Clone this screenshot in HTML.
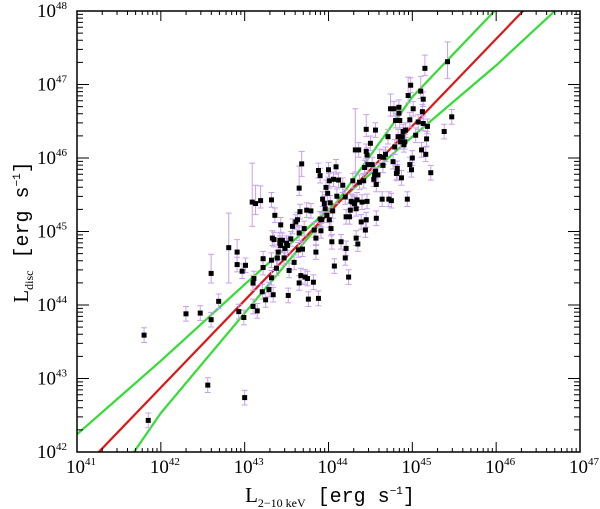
<!DOCTYPE html>
<html><head><meta charset="utf-8"><style>
html,body{margin:0;padding:0;background:#fff;}
svg{display:block;font-family:"Liberation Serif",serif;}
</style></head><body>
<svg id="chart" width="600" height="509" viewBox="0 0 600 509" xmlns="http://www.w3.org/2000/svg">
<g id="bands"></g>
<g id="errs"></g>
<g id="pts"></g>
<rect x="77" y="11" width="503" height="441" fill="none" stroke="#000" stroke-width="1.5"/>
<g id="ticks"></g>
<g id="labels"></g>
<text x="330" y="502" text-anchor="middle" font-size="21">L<tspan font-size="12" dy="5">2−10 keV</tspan><tspan dy="-5" font-family="Liberation Mono, monospace" font-size="20"> [erg s<tspan font-size="11" dy="-8">−1</tspan><tspan dy="8">]</tspan></tspan></text>
<text transform="translate(28,232) rotate(-90)" text-anchor="middle" font-size="21">L<tspan font-size="12" dy="5">disc</tspan><tspan dy="-5" font-family="Liberation Mono, monospace" font-size="20"> [erg s<tspan font-size="11" dy="-8">−1</tspan><tspan dy="8">]</tspan></tspan></text>
</svg>
<script>
const logX=[41.80,41.85,42.30,42.47,42.60,42.60,42.56,42.69,42.81,42.91,42.91,42.93,42.97,42.99,43.01,43.00,43.09,43.10,43.10,43.11,43.13,43.15,43.19,43.21,43.22,43.22,43.25,43.29,43.32,43.32,43.32,43.33,43.34,43.35,43.36,43.38,43.39,43.40,43.42,43.42,43.43,43.43,43.45,43.47,43.48,43.50,43.51,43.52,43.53,43.55,43.57,43.59,43.61,43.63,43.64,43.65,43.65,43.65,43.66,43.67,43.68,43.69,43.71,43.72,43.74,43.75,43.76,43.79,43.82,43.83,43.85,43.85,43.88,43.88,43.90,43.90,43.91,43.92,43.93,43.95,43.96,43.97,43.98,43.99,44.00,44.01,44.01,44.02,44.03,44.04,44.05,44.06,44.07,44.09,44.10,44.12,44.15,44.17,44.20,44.20,44.21,44.21,44.24,44.25,44.26,44.27,44.29,44.29,44.31,44.32,44.33,44.33,44.34,44.35,44.36,44.37,44.39,44.40,44.42,44.43,44.44,44.45,44.45,44.45,44.46,44.46,44.47,44.50,44.52,44.54,44.55,44.56,44.56,44.57,44.57,44.59,44.61,44.64,44.65,44.66,44.68,44.71,44.72,44.74,44.75,44.77,44.78,44.79,44.80,44.81,44.82,44.82,44.83,44.84,44.84,44.85,44.86,44.87,44.88,44.89,44.90,44.91,44.92,44.94,44.95,44.97,44.97,44.98,44.99,45.00,45.01,45.04,45.07,45.10,45.11,45.12,45.13,45.13,45.15,45.16,45.17,45.18,45.22,45.38,45.42,45.47];
const logY=[43.59,42.43,43.88,43.89,43.80,44.43,42.91,44.05,44.78,44.72,44.55,43.91,44.46,43.83,44.54,42.74,45.40,44.30,43.98,44.36,45.38,43.92,45.42,44.18,44.51,44.63,44.07,44.21,45.43,44.37,44.61,44.91,44.14,44.89,45.22,44.50,44.64,44.72,44.84,44.88,45.09,44.81,44.88,44.64,44.77,44.84,44.81,44.13,44.47,44.90,45.07,44.58,45.13,45.16,44.75,44.30,44.98,45.59,45.27,44.40,45.92,44.76,45.04,44.38,45.29,44.36,44.08,45.28,44.31,45.02,44.91,44.72,44.09,45.83,45.17,45.76,45.01,45.16,45.44,45.38,45.31,45.60,45.22,45.52,45.84,45.69,45.16,45.39,45.04,44.86,45.28,45.71,44.53,45.88,45.48,45.70,44.86,45.63,44.64,45.47,44.77,45.20,44.38,45.20,45.29,45.41,45.69,45.40,45.38,46.11,44.91,45.31,45.43,44.83,46.11,45.67,45.13,45.40,45.69,45.87,45.02,45.16,46.39,46.09,45.41,46.04,45.91,46.20,45.91,45.71,45.77,46.38,45.82,45.64,45.18,45.77,46.02,45.44,45.90,46.01,46.05,46.29,45.44,46.67,45.42,45.95,46.67,46.15,46.51,45.79,45.81,45.86,46.29,46.61,46.69,46.51,46.22,45.73,46.29,46.36,46.18,46.22,46.38,45.44,46.85,46.52,45.91,46.99,45.84,46.00,46.67,46.31,46.49,46.91,46.11,46.63,46.80,46.47,47.22,46.05,46.26,46.43,45.80,46.36,47.31,46.56];
// [point index, upper error dex, lower error dex]; others default 0.1
const bigErrors=[[5,0.26,0.13],[8,0.47,0.48],[9,0.17,0.19],[16,0.53,0.33],[20,0.25,0.15],[22,0.2,0.1],[57,0.3,0.1],[60,0.17,0.17],[109,0.56,0.3],[122,0.2,0.1],[184,0.27,0.23],[178,0.18,0.1],[164,0.25,0.1],[173,0.2,0.1],[143,0.2,0.1]];
const defaultErr=0.1;
const redFit=[[41.26,42.0],[46.32,48.0]];
const upperBand=[[41.0,42.24],[42.0,43.24],[43.0,44.28],[44.1,45.40],[45.0,46.83],[45.98,48.0]];
const lowerBand=[[41.68,42.0],[42.0,42.53],[43.0,43.89],[44.1,45.38],[45.0,46.29],[46.0,47.26],[46.7,48.0]];
const xDecades=[41,42,43,44,45,46,47];
const yDecades=[42,43,44,45,46,47,48];

const X0=77,X1=580,Y0=452,Y1=11;
const X=v=>X0+(v-41)/6*(X1-X0);
const Y=v=>Y0-(v-42)/6*(Y0-Y1);
const NS="http://www.w3.org/2000/svg";
function mk(tag,attrs,parent){const e=document.createElementNS(NS,tag);for(const k in attrs)e.setAttribute(k,attrs[k]);parent.appendChild(e);return e;}

const bands=document.getElementById('bands');
const clip=mk('clipPath',{id:'pc'},bands);
mk('rect',{x:X0,y:Y1,width:X1-X0,height:Y0-Y1},clip);
function line(pts,color,name){
  const p=mk('polyline',{points:pts.map(q=>X(q[0])+','+Y(q[1])).join(' '),fill:'none',stroke:color,'stroke-width':2.2,'clip-path':'url(#pc)'},bands);
  
  
}
line(upperBand,'#33dd33','upper-confidence-band');
line(lowerBand,'#33dd33','lower-confidence-band');
line(redFit,'#e01515','best-fit-line');

const errs=document.getElementById('errs'),pts=document.getElementById('pts');
logX.forEach((lx,i)=>{
  let up=defaultErr,dn=defaultErr;
  bigErrors.forEach(b=>{if(b[0]===i){up=b[1];dn=b[2];}});
  const x=X(lx),y=Y(logY[i]),ya=Y(logY[i]+up),yb=Y(logY[i]-dn);
  const g=mk('path',{d:`M${x},${ya}V${yb}M${x-3},${ya}H${x+3}M${x-3},${yb}H${x+3}`,stroke:'#c8a0ec','stroke-width':1,fill:'none'},errs);
  
  
  const r=mk('rect',{x:x-2.5,y:y-2.5,width:5,height:5,fill:'#000'},pts);
  
  
});

const ticks=document.getElementById('ticks');
let d='';
for(let dec=41;dec<47;dec++)for(let m=1;m<10;m++){
  const x=X(dec+Math.log10(m)),L=m===1?10:4;
  if(dec===41&&m===1)continue;
  d+=`M${x},${Y0}V${Y0-L}M${x},${Y1}V${Y1+L}`;
}
for(let dec=42;dec<48;dec++)for(let m=1;m<10;m++){
  const y=Y(dec+Math.log10(m)),L=m===1?12:6;
  if(dec===42&&m===1)continue;
  d+=`M${X0},${y}H${X0+L}M${X1},${y}H${X1-L}`;
}
const tp=mk('path',{d:d,stroke:'#000','stroke-width':1,fill:'none'},ticks);



const labels=document.getElementById('labels');
xDecades.forEach(v=>{
  const t=mk('text',{x:X(v)+4,y:473,'text-anchor':'middle','font-size':19},labels);
  t.innerHTML='10<tspan font-size="11" dy="-8">'+v+'</tspan>';
  
  
});
yDecades.forEach(v=>{
  const t=mk('text',{x:67,y:Y(v)+6,'text-anchor':'end','font-size':19},labels);
  t.innerHTML='10<tspan font-size="11" dy="-8">'+v+'</tspan>';
  
  
});
</script>
</body></html>
